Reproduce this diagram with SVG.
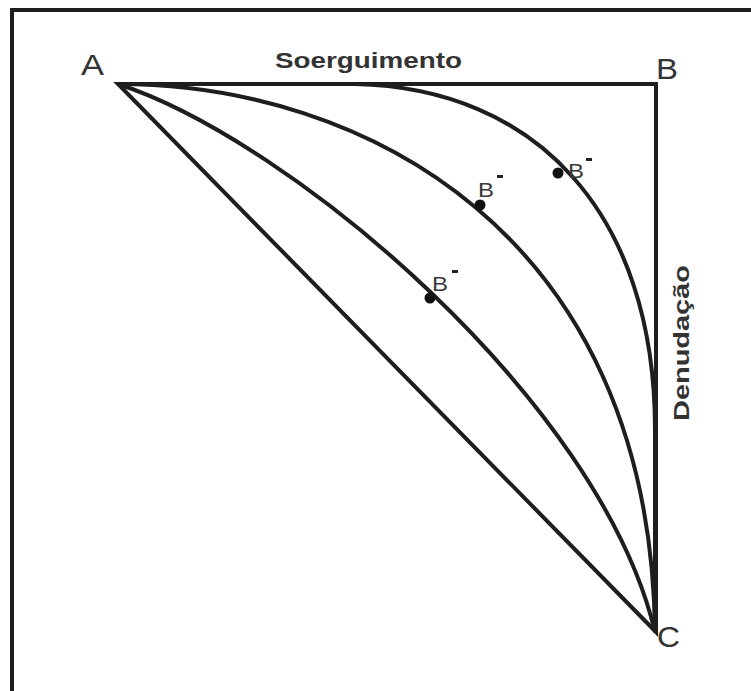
<svg xmlns="http://www.w3.org/2000/svg" width="751" height="691" viewBox="0 0 751 691">
<style>
.ln{fill:none;stroke:#1e1e1e;stroke-width:4;stroke-linejoin:miter}
.lbl{font-family:"Liberation Sans",Arial,sans-serif;fill:#333;font-size:30px}
.bm{font-family:"Liberation Sans",Arial,sans-serif;fill:#3a3a3a;font-size:21px}
.bold{font-family:"Liberation Sans",Arial,sans-serif;font-weight:bold;fill:#333;font-size:22px}
</style>
<rect width="751" height="691" fill="#fff"/>
<rect x="12" y="10" width="760" height="720" fill="none" stroke="#1e1e1e" stroke-width="4"/>
<g id="connectors">
<path class="ln" d="M118,84 L656,84 L656,632 Z"/>
<path class="ln" d="M118,84 L355,84 C535,88 655,212 655,430 L655,632"/>
<path class="ln" d="M118,84 C360,84 650,230 655,632"/>
<path class="ln" d="M118,84 C290,140 600,400 655,632"/>
</g>
<g id="A"><text class="lbl" x="81" y="75" textLength="23" lengthAdjust="spacingAndGlyphs">A</text></g>
<g id="B"><text class="lbl" x="656" y="79" textLength="22" lengthAdjust="spacingAndGlyphs">B</text></g>
<g id="C"><text class="lbl" x="657" y="647" textLength="23" lengthAdjust="spacingAndGlyphs">C</text></g>
<g id="soerguimento"><text class="bold" x="275" y="68" textLength="187" lengthAdjust="spacingAndGlyphs">Soerguimento</text></g>
<g id="denudacao"><text class="bold" transform="translate(689,421) rotate(-90)" textLength="156" lengthAdjust="spacingAndGlyphs">Denudação</text></g>
<g id="b1"><circle cx="558" cy="173" r="5.5" fill="#111"/><text class="bm" x="568" y="178" textLength="16" lengthAdjust="spacingAndGlyphs">B</text><rect x="586" y="158" width="6" height="3" fill="#222"/></g>
<g id="b2"><circle cx="480" cy="205" r="5.5" fill="#111"/><text class="bm" x="478" y="197" textLength="16" lengthAdjust="spacingAndGlyphs">B</text><rect x="497" y="175" width="6" height="3" fill="#222"/></g>
<g id="b3"><circle cx="430" cy="298" r="5.5" fill="#111"/><text class="bm" x="432" y="291" textLength="16" lengthAdjust="spacingAndGlyphs">B</text><rect x="452" y="270" width="6" height="3" fill="#222"/></g>
</svg>
